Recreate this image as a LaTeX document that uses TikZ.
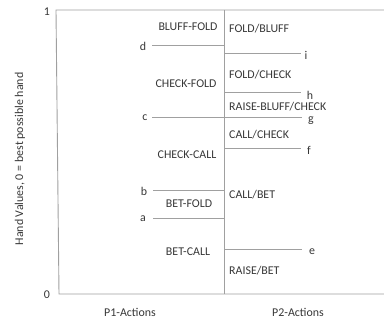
\documentclass[tikz,border=0pt]{standalone}
\usepackage{fontspec}
\setmainfont{Carlito}
\definecolor{axisgray}{RGB}{160,160,160}
\definecolor{txtgray}{RGB}{55,55,55}
\begin{document}
\begin{tikzpicture}[x=1pt,y=-1pt,
  every node/.style={inner sep=0pt,text=txtgray,font=\fontsize{11.9}{13}\selectfont},
  gline/.style={draw=axisgray,line width=0.9pt},
  lab/.style={anchor=center},
  rlab/.style={anchor=west}]
\useasboundingbox (0,0) rectangle (384,320);
% frame
\coordinate (TL) at (56,10);
\coordinate (BL) at (59,294);
\coordinate (TR) at (384,10);
\coordinate (BR) at (384,294);
\coordinate (MT) at (224,10);
\coordinate (MB) at (224,294);
\draw[gline] (TR) -- (TL) -- (BL) -- (BR);
\draw[gline] (MT) -- (MB);
% axis labels
\node (one) at (47,12) {1};
\node (zero) at (47,295) {0};
\node[rotate=90] (ylab) at (20,159) {Hand Values, 0 = best possible hand};
\node (p1) at (130,312) {P1-Actions};
\node (p2) at (298,312) {P2-Actions};
% left thresholds
\node (d) at (143,46) {d};
\node (c) at (145,118) {c};
\node (b) at (144,191) {b};
\node (a) at (143,219) {a};
\coordinate (dS) at (152,45); \coordinate (dE) at (224,45);
\coordinate (cS) at (152,117); \coordinate (cE) at (302,117);
\coordinate (bS) at (153,190); \coordinate (bE) at (224,190);
\coordinate (aS) at (153,218); \coordinate (aE) at (224,218);
\draw[gline] (dS) -- (dE);
\draw[gline] (cS) -- (cE);
\draw[gline] (bS) -- (bE);
\draw[gline] (aS) -- (aE);
% right thresholds
\coordinate (iS) at (224,53); \coordinate (iE) at (301,53);
\coordinate (hS) at (224,92.5); \coordinate (hE) at (301,92.5);
\coordinate (fS) at (224,148); \coordinate (fE) at (301,148);
\coordinate (eS) at (224,249); \coordinate (eE) at (302,249);
\draw[gline] (iS) -- (iE);
\draw[gline] (hS) -- (hE);
\draw[gline] (fS) -- (fE);
\draw[gline] (eS) -- (eE);
\node (i) at (306,55) {i};
\node (h) at (310,95) {h};
\node (g) at (311,121) {g};
\node (f) at (309,150) {f};
\node (e) at (312,252) {e};
% P1 action labels
\node[lab] (bf) at (188,27) {BLUFF-FOLD};
\node[lab] (cf) at (186,84) {CHECK-FOLD};
\node[lab] (cc) at (187,155) {CHECK-CALL};
\node[lab] (betf) at (189,204) {BET-FOLD};
\node[lab] (betc) at (188,252) {BET-CALL};
% P2 action labels
\node[rlab] (fb) at (229,29) {FOLD/BLUFF};
\node[rlab] (fc) at (229,75) {FOLD/CHECK};
\node[rlab] (rbc) at (229,107) {RAISE-BLUFF/CHECK};
\node[rlab] (callc) at (229,135) {CALL/CHECK};
\node[rlab] (callb) at (229,195) {CALL/BET};
\node[rlab] (rb) at (229,271) {RAISE/BET};
\end{tikzpicture}
\end{document}
